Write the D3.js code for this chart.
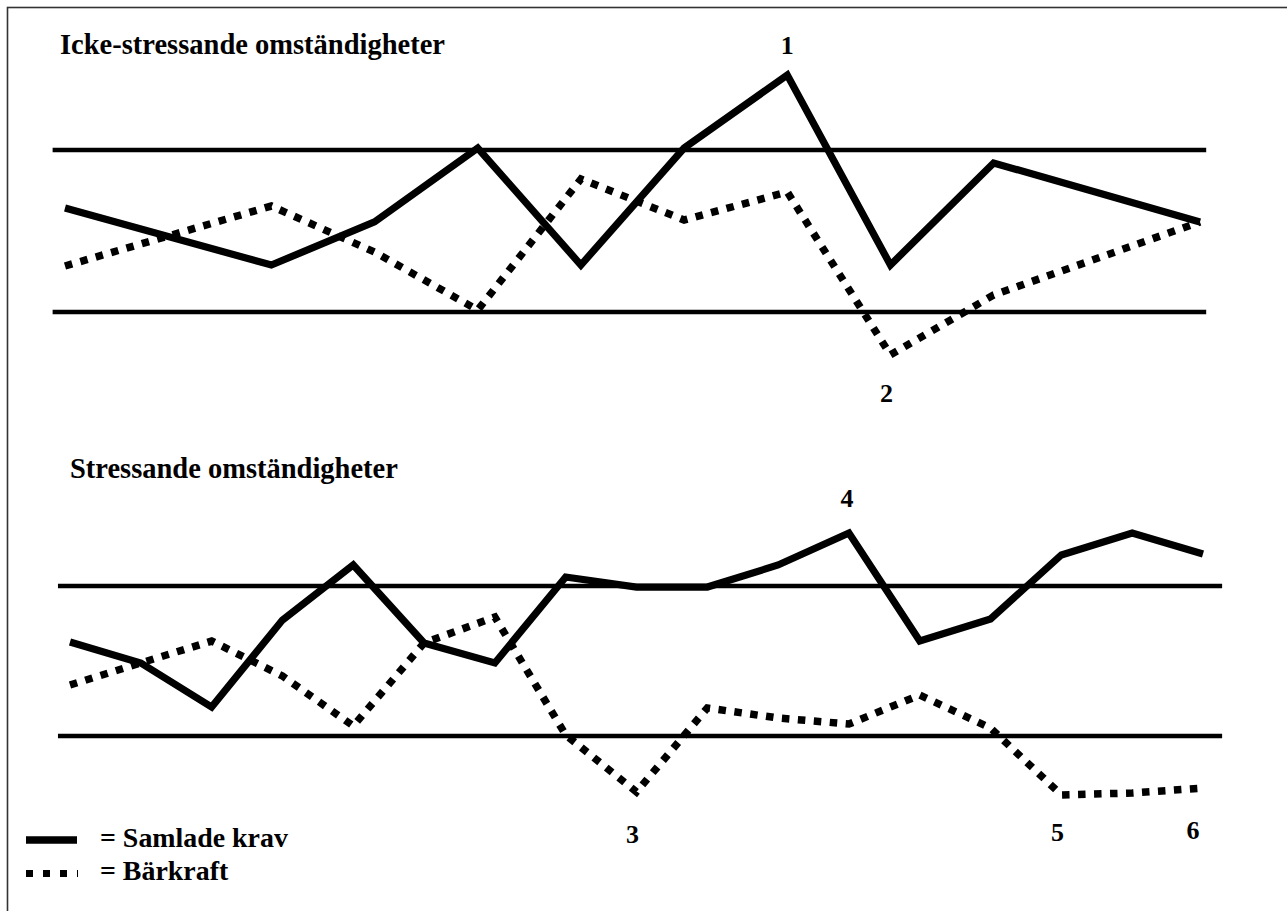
<!DOCTYPE html>
<html>
<head>
<meta charset="utf-8">
<script src="https://cdn.jsdelivr.net/npm/d3@7"></script>
<style>
  html, body { margin: 0; padding: 0; background: #fff; }
  svg { display: block; }
  text { font-family: "Liberation Serif", "Times New Roman", serif; font-weight: bold; fill: #000; }
</style>
</head>
<body>
<svg id="chart" width="1287" height="911"></svg>
<script>
// ---------- DATA ----------
const panelTitles = ["Icke-stressande omständigheter", "Stressande omständigheter"];
const bandLevels = [0, 10];           // lower and upper reference lines (same for both panels)

// Top panel (non-stressful)
const topKravX      = [0, 2, 3, 4, 5, 6, 7, 8, 9, 11];
const topKrav       = [6.42, 2.90, 5.56, 10.12, 2.90, 10.12, 14.63, 2.90, 9.20, 5.56];
const topBarkraftX  = [0, 2, 3, 4, 5, 6, 7, 8, 9, 11];
const topBarkraft   = [2.84, 6.54, 3.70, 0.12, 8.21, 5.68, 7.41, -2.65, 1.05, 5.56];

// Bottom panel (stressful)
const bottomX        = [0, 1, 2, 3, 4, 5, 6, 7, 8, 9, 10, 11, 12, 13, 14, 15, 16];
const bottomKrav     = [6.27, 4.87, 1.93, 7.73, 11.4, 6.2, 4.87, 10.6, 9.93, 9.93, 11.4, 13.53, 6.33, 7.8, 12.07, 13.53, 12.13];
const bottomBarkraft = [3.4, 4.87, 6.33, 4.0, 0.67, 6.2, 7.93, 0.07, -3.73, 1.87, 1.2, 0.8, 2.73, 0.53, -3.93, -3.8, -3.47];

// Numbered markers: text, panel, series, point index
const markerText   = ["1", "2", "3", "4", "5", "6"];
const markerPanel  = [0, 0, 1, 1, 1, 1];
const markerSeries = ["krav", "barkraft", "barkraft", "krav", "barkraft", "barkraft"];
const markerIndex  = [6, 7, 8, 11, 14, 16];

const legendLabels = ["= Samlade krav", "= Bärkraft"];

// ---------- LAYOUT ----------
const svg = d3.select("#chart");
const W = 1287, H = 911;

const panels = [
  { x: d3.scaleLinear().domain([0, 11]).range([65, 1200]),
    y: d3.scaleLinear().domain([0, 10]).range([312, 150]),
    bandExtent: [-0.12, 11.06],
    krav: topKrav.map((v, i) => [topKravX[i], v]),
    barkraft: topBarkraft.map((v, i) => [topBarkraftX[i], v]),
    title: { x: 60, y: 54, w: 385 } },
  { x: d3.scaleLinear().domain([0, 16]).range([70, 1203]),
    y: d3.scaleLinear().domain([0, 10]).range([736, 586]),
    bandExtent: [-0.17, 16.27],
    krav: bottomKrav.map((v, i) => [bottomX[i], v]),
    barkraft: bottomBarkraft.map((v, i) => [bottomX[i], v]),
    title: { x: 70, y: 478, w: 328 } }
];
const markerOffset = [[0, -21], [-4, 47], [-4, 51], [-2, -26], [-4, 46], [-10, 51]];

// frame (left + top edges visible)
svg.append("rect").attr("x", 7.5).attr("y", 7.5).attr("width", W + 20).attr("height", H + 20)
  .attr("fill", "none").attr("stroke", "#333").attr("stroke-width", 1.6);

function fitText(sel, targetW, baseSize) {
  sel.attr("font-size", baseSize);
  const len = sel.node().getComputedTextLength();
  sel.attr("font-size", baseSize * targetW / len);
}

panels.forEach((p, pi) => {
  const g = svg.append("g");
  // band lines
  bandLevels.forEach(b => {
    g.append("line")
      .attr("x1", p.x(p.bandExtent[0])).attr("x2", p.x(p.bandExtent[1]))
      .attr("y1", p.y(b)).attr("y2", p.y(b))
      .attr("stroke", "#000").attr("stroke-width", 4.6);
  });
  const line = d3.line().x(d => p.x(d[0])).y(d => p.y(d[1]));
  g.append("path").datum(p.barkraft).attr("d", line)
    .attr("fill", "none").attr("stroke", "#000").attr("stroke-width", 7.5)
    .attr("stroke-dasharray", "7.5,8.5").attr("stroke-linejoin", "miter");
  g.append("path").datum(p.krav).attr("d", line)
    .attr("fill", "none").attr("stroke", "#000").attr("stroke-width", 7.2)
    .attr("stroke-linejoin", "miter").attr("stroke-miterlimit", 10);
  const t = g.append("text").attr("x", p.title.x).attr("y", p.title.y).text(panelTitles[pi]);
  fitText(t, p.title.w, 26);
});

markerText.forEach((txt, i) => {
  const p = panels[markerPanel[i]];
  const pt = p[markerSeries[i]][markerIndex[i]];
  svg.append("text")
    .attr("x", p.x(pt[0]) + markerOffset[i][0])
    .attr("y", p.y(pt[1]) + markerOffset[i][1])
    .attr("text-anchor", "middle")
    .attr("font-size", 26)
    .attr("font-weight", "bold")
    .text(txt);
});

// legend
const leg = svg.append("g");
leg.append("line").attr("x1", 26).attr("x2", 77).attr("y1", 840).attr("y2", 840)
  .attr("stroke", "#000").attr("stroke-width", 7.5);
leg.append("line").attr("x1", 26).attr("x2", 78).attr("y1", 873.5).attr("y2", 873.5)
  .attr("stroke", "#000").attr("stroke-width", 7).attr("stroke-dasharray", "7,10");
const lt1 = leg.append("text").attr("x", 100).attr("y", 847).text(legendLabels[0]);
fitText(lt1, 188, 22);
const lt2 = leg.append("text").attr("x", 100).attr("y", 880).text(legendLabels[1]);
lt2.attr("font-size", lt1.attr("font-size"));
</script>
</body>
</html>
